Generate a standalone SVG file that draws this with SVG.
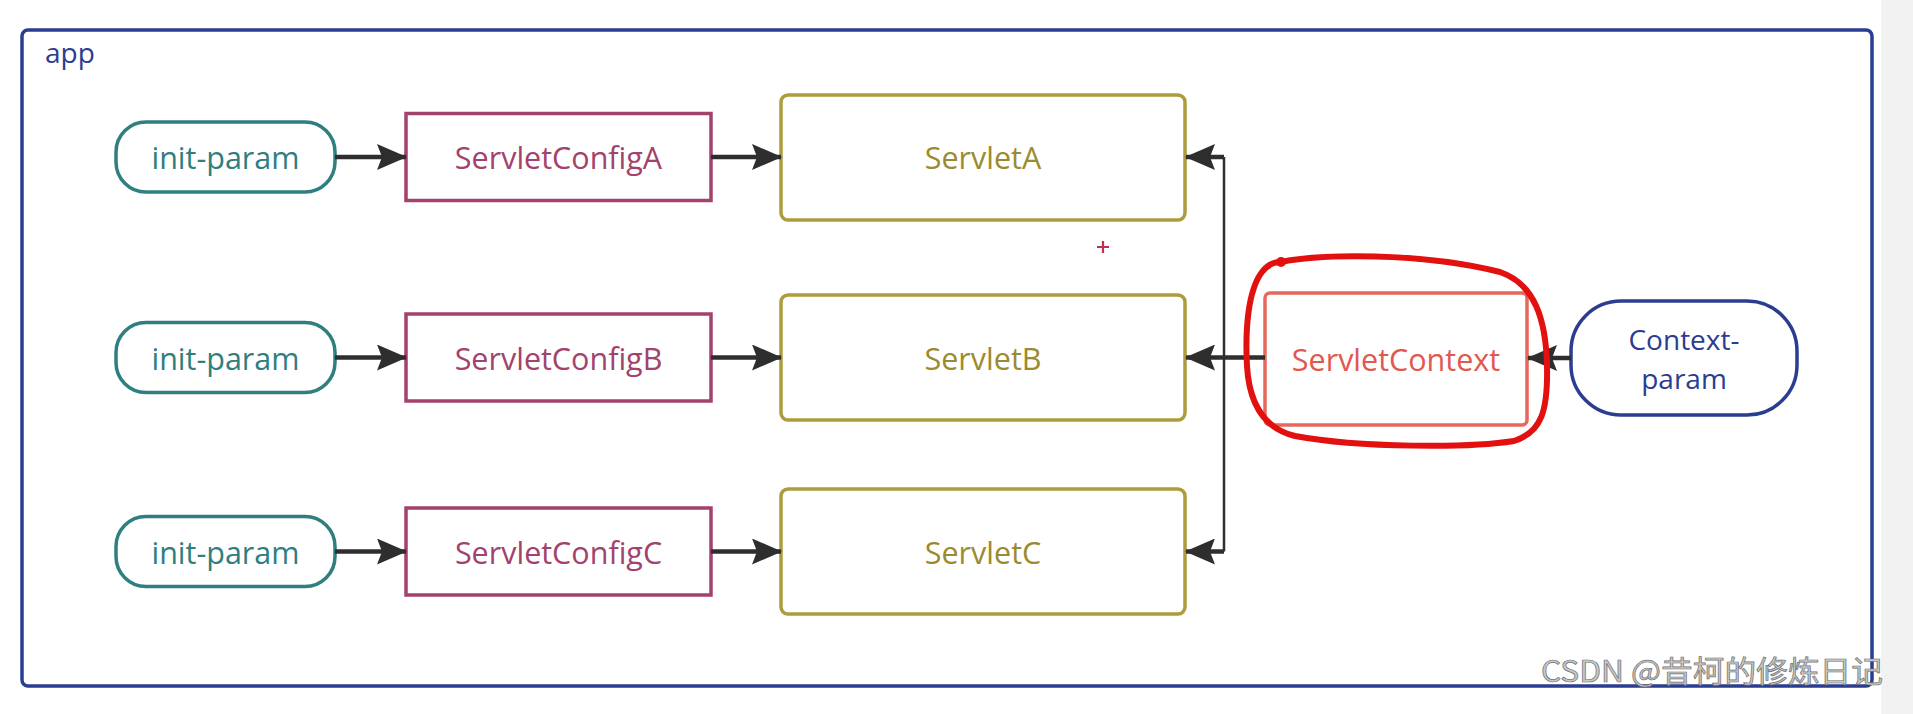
<svg xmlns="http://www.w3.org/2000/svg" width="1913" height="714" viewBox="0 0 1913 714">
<style>
  text { font-family: "Open Sans", "Noto Sans", "Liberation Sans", sans-serif; font-size: 30.5px; text-anchor: middle; dominant-baseline: central; }
  .pill { fill: #ffffff; stroke: #2f7e80; stroke-width: 3.5; }
  .pillt { fill: #2f7e80; }
  .cfg { fill: #ffffff; stroke: #a3426c; stroke-width: 3.5; }
  .cfgt { fill: #a3426c; }
  .srv { fill: #ffffff; stroke: #ad9c3c; stroke-width: 3.5; }
  .srvt { fill: #9b8b30; }
  .ctx { fill: #ffffff; stroke: #e8675d; stroke-width: 3.5; }
  .ctxt { fill: #e0584e; }
  .cp { fill: #ffffff; stroke: #2b3d90; stroke-width: 3.5; }
  .cpt { fill: #2b3d90; font-size: 28px; }
  .arr { fill: none; stroke: #2e2e2e; stroke-width: 4.5; marker-end: url(#ah); }
  .thin { fill: none; stroke: #2e2e2e; stroke-width: 2.5; }
</style>
<defs>
  <marker id="ah" markerUnits="userSpaceOnUse" markerWidth="30" markerHeight="26" refX="29" refY="13" orient="auto">
    <path d="M0,0 L30,13 L0,26 L5,13 Z" fill="#2e2e2e"/>
  </marker>
</defs>
<rect x="0" y="0" width="1913" height="714" fill="#ffffff"/>
<rect x="1881" y="0" width="32" height="714" fill="#f2f2f2"/>

<g id="app">
  <rect x="22" y="30" width="1850" height="656" rx="6" fill="#ffffff" stroke="#2b3d90" stroke-width="3.5"/>
  <text x="45" y="52" style="text-anchor:start;font-size:28px" fill="#2b3d90">app</text>
</g>

<g id="init-param-a"><rect class="pill" x="116" y="122" width="219" height="70" rx="30"/><text class="pillt" x="225.5" y="157">init-param</text></g>
<g id="init-param-b"><rect class="pill" x="116" y="322.5" width="219" height="70" rx="30"/><text class="pillt" x="225.5" y="357.5">init-param</text></g>
<g id="init-param-c"><rect class="pill" x="116" y="516.5" width="219" height="70" rx="30"/><text class="pillt" x="225.5" y="551.5">init-param</text></g>

<g id="servlet-config-a"><rect class="cfg" x="406" y="113.5" width="305" height="87"/><text class="cfgt" x="558.5" y="157">ServletConfigA</text></g>
<g id="servlet-config-b"><rect class="cfg" x="406" y="314" width="305" height="87"/><text class="cfgt" x="558.5" y="357.5">ServletConfigB</text></g>
<g id="servlet-config-c"><rect class="cfg" x="406" y="508" width="305" height="87"/><text class="cfgt" x="558.5" y="551.5">ServletConfigC</text></g>

<g id="servlet-a"><rect class="srv" x="781" y="95" width="404" height="125" rx="7"/><text class="srvt" x="983" y="157">ServletA</text></g>
<g id="servlet-b"><rect class="srv" x="781" y="295" width="404" height="125" rx="7"/><text class="srvt" x="983" y="357.5">ServletB</text></g>
<g id="servlet-c"><rect class="srv" x="781" y="489" width="404" height="125" rx="7"/><text class="srvt" x="983" y="551.5">ServletC</text></g>

<g id="servlet-context">
  <rect class="ctx" x="1265" y="293" width="262" height="132" rx="5"/>
  <text class="ctxt" x="1396" y="359">ServletContext</text>
</g>

<g id="context-param">
  <rect class="cp" x="1571" y="301" width="226" height="114" rx="50"/>
  <text class="cpt" x="1684" y="339">Context-</text>
  <text class="cpt" x="1684" y="378">param</text>
</g>

<g id="connectors">
  <path class="arr" d="M335,157 H406"/>
  <path class="arr" d="M335,357.5 H406"/>
  <path class="arr" d="M335,551.5 H406"/>
  <path class="arr" d="M711,157 H781"/>
  <path class="arr" d="M711,357.5 H781"/>
  <path class="arr" d="M711,551.5 H781"/>
  <path class="thin" d="M1224,157 V551.5"/>
  <path class="arr" d="M1224,157 H1186"/>
  <path class="arr" d="M1224,551.5 H1186"/>
  <path class="arr" d="M1265,357.5 H1186"/>
  <path class="arr" d="M1571,358 H1528"/>
</g>

<g id="annotation">
  <path d="M1281,262 C1320,254 1420,252 1500,272 C1535,284 1546,320 1547,366 C1548,410 1542,432 1514,441 C1470,448 1360,448 1295,436 C1262,428 1249,400 1247,366 C1245,330 1248,290 1262,272 C1268,264 1275,262 1281,262 Z" fill="none" stroke="#e31010" stroke-width="6" stroke-linejoin="round"/>
  <circle cx="1281" cy="262" r="5" fill="#e31010"/>
  <path d="M1103,241 V253 M1097,247 H1109" stroke="#c0304e" stroke-width="2.2"/>
</g>

<text x="1712" y="669" style="font-family:'Noto Sans CJK SC','Noto Sans',sans-serif;font-size:30px" fill="#c8c8c8" stroke="#707070" stroke-width="0.7" textLength="342" lengthAdjust="spacingAndGlyphs">CSDN @昔柯的修炼日记</text>
</svg>
